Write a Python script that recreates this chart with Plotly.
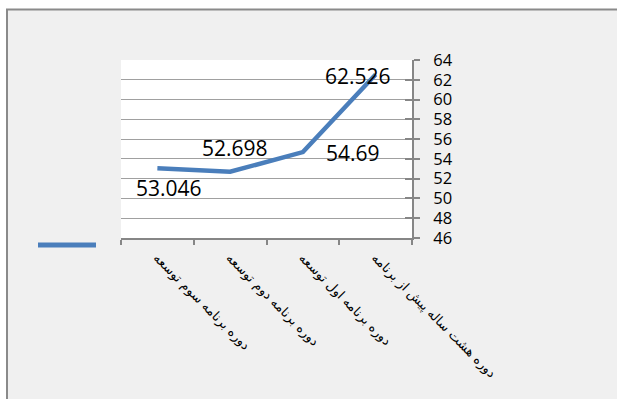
import plotly.graph_objects as go

categories = ["دوره برنامه سوم توسعه", "دوره برنامه دوم توسعه",
              "دوره برنامه اول توسعه", "دوره هشت ساله پیش از برنامه"]
values = [53.046, 52.698, 54.69, 62.526]
value_labels = ["53.046", "52.698", "54.69", "62.526"]
y_ticks = [46, 48, 50, 52, 54, 56, 58, 60, 62, 64]

# label offsets (pixels) relative to each point
label_dx = [12, 5, 50, -18]
label_dy = [-20, 24, -1, -1]

W, H = 617, 399
L, R, T, B = 121, 205, 60, 161
pw, ph = W - L - R, H - T - B

def px(x):
    return (x - L) / pw

def py(y):
    return (H - B - y) / ph

line_color = "#4a7ebb"
axis_color = "#868686"
grid_color = "#a0a0a0"

fig = go.Figure()
fig.add_trace(go.Scatter(
    x=categories, y=values, mode="lines",
    line=dict(color=line_color, width=4.5),
    showlegend=False, hoverinfo="skip",
))
# invisible trace for overlay axis
fig.add_trace(go.Scatter(x=categories, y=values, yaxis="y2", mode="lines",
                         line=dict(width=0), showlegend=False, hoverinfo="skip"))

for c, v, t, dx, dy in zip(categories, values, value_labels, label_dx, label_dy):
    fig.add_annotation(x=c, y=v, text=t, showarrow=False,
                       xshift=dx, yshift=dy,
                       font=dict(family="Open Sans", size=21, color="black"))

shapes = [
    dict(type="rect", xref="paper", yref="paper", layer="below",
         x0=px(7), x1=px(640), y0=py(420), y1=py(9.5),
         fillcolor="#f0f0f0", line=dict(color="#8a8a8a", width=2)),
    dict(type="rect", xref="paper", yref="paper", layer="below",
         x0=0, x1=1, y0=0, y1=1, fillcolor="white", line=dict(width=0)),
    dict(type="line", xref="paper", yref="paper", layer="above",
         x0=px(38), x1=px(96), y0=py(245), y1=py(245),
         line=dict(color=line_color, width=5)),
]

fig.update_layout(
    width=W, height=H,
    margin=dict(l=L, r=R, t=T, b=B),
    paper_bgcolor="white", plot_bgcolor="rgba(0,0,0,0)",
    shapes=shapes,
    showlegend=False,
    xaxis=dict(
        type="category", range=[-0.5, 3.5],
        showgrid=False, showline=True, linecolor=axis_color, linewidth=2,
        ticks="outside", tickson="boundaries", ticklen=5, tickcolor=axis_color, tickwidth=2,
        tickangle=45, ticklabelstandoff=5,
        tickfont=dict(family="DejaVu Sans", size=13, color="black"),
        zeroline=False, fixedrange=True,
    ),
    yaxis=dict(
        side="right", range=[46, 64], tickvals=y_ticks,
        showgrid=True, gridcolor=grid_color, gridwidth=1,
        showline=True, linecolor=axis_color, linewidth=2,
        ticks="outside", ticklen=6, tickcolor=axis_color, tickwidth=2,
        ticklabelstandoff=10,
        tickfont=dict(family="Open Sans", size=16.5, color="black"),
        zeroline=False,
    ),
    yaxis2=dict(
        overlaying="y", side="right", range=[46, 64], tickvals=y_ticks,
        showgrid=False, showline=False, showticklabels=False,
        ticks="inside", ticklen=7, tickcolor=axis_color, tickwidth=2,
        zeroline=False,
    ),
)

fig.write_html("out.html")
